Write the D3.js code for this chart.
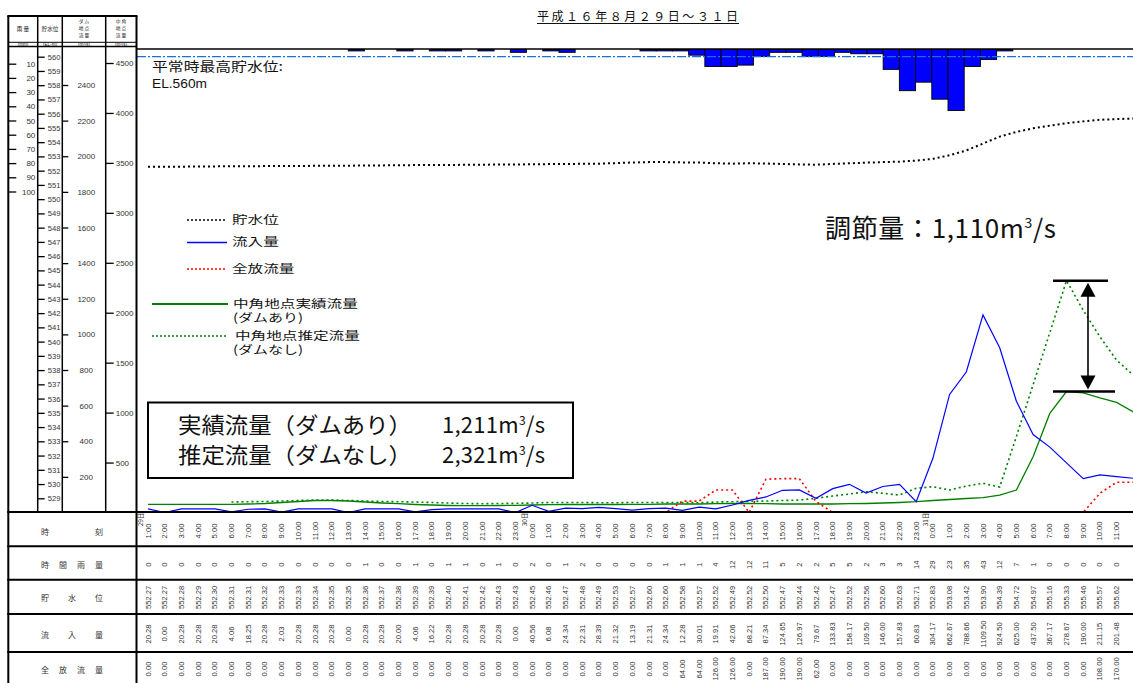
<!DOCTYPE html>
<html><head><meta charset="utf-8">
<script src="https://cdn.jsdelivr.net/npm/d3@7"></script>
<style>body{margin:0;background:#fff}svg{display:block}</style>
</head><body>
<svg id="c" width="1133" height="683"></svg>
<script>
// ---------------- DATA ----------------
const timeLabels = ["1:00","2:00","3:00","4:00","5:00","6:00","7:00","8:00","9:00","10:00","11:00","12:00","13:00","14:00","15:00","16:00","17:00","18:00","19:00","20:00","21:00","22:00","23:00",
 "0:00","1:00","2:00","3:00","4:00","5:00","6:00","7:00","8:00","9:00","10:00","11:00","12:00","13:00","14:00","15:00","16:00","17:00","18:00","19:00","20:00","21:00","22:00","23:00",
 "0:00","1:00","2:00","3:00","4:00","5:00","6:00","7:00","8:00","9:00","10:00","11:00","12:00"];
const dayIndex = [0, 23, 47];
const dayText = ["29日", "30日", "31日"];

const rainfall = [0,0,0,0,0,0,0,0,0,0,0,0,0,1,0,0,1,0,1,1,0,1,0,
 2,0,1,2,0,0,0,0,1,1,1,4,12,12,11,5,2,2,5,5,2,3,3,14,
 29,23,35,43,12,7,1,0,0,0,0,0,0];
const storage = [552.27,552.27,552.28,552.29,552.30,552.31,552.31,552.32,552.33,552.33,552.34,552.35,552.35,552.36,552.37,552.38,552.39,552.39,552.40,552.41,552.42,552.43,552.43,
 552.45,552.46,552.47,552.48,552.49,552.53,552.57,552.60,552.60,552.58,552.57,552.52,552.49,552.52,552.50,552.47,552.44,552.42,552.47,552.52,552.56,552.60,552.63,552.71,
 552.83,553.08,553.42,553.90,554.39,554.72,554.97,555.16,555.33,555.46,555.57,555.62,555.66];
const inflow = [20.28,0.00,20.28,20.28,20.28,4.06,18.25,20.28,2.03,20.28,20.28,20.28,0.00,20.28,20.28,20.00,4.06,16.22,20.28,20.28,20.28,20.28,0.00,
 40.56,6.08,24.34,22.31,28.39,21.32,13.19,21.31,24.34,12.28,30.01,19.91,42.06,68.21,87.34,124.65,126.97,79.67,133.83,158.17,109.50,146.00,157.83,60.83,
 304.17,662.67,788.66,1109.50,924.50,625.00,437.50,367.17,278.67,190.00,211.15,201.48,192.00];
const release = [0,0,0,0,0,0,0,0,0,0,0,0,0,0,0,0,0,0,0,0,0,0,0,
 0,0,0,0,0,0,0,0,0,64,64,126,126,0,187,190,190,62,0,0,0,0,0,0,
 0,0,0,0,0,0,0,0,0,0,108,170,170];
// 中角地点 実績流量（ダムあり） / 推定流量（ダムなし）
const nakaActual = [82,82,82,82,82,82,85,90,100,110,120,120,115,105,95,88,80,75,70,68,68,70,72,
 75,78,80,80,80,80,82,82,85,85,85,88,90,90,88,85,85,85,85,88,90,95,100,108,
 120,130,140,148,175,225,558,992,1211,1198,1148,1102,1008];
const nakaEstimated = [null,null,null,null,null,105,108,110,115,120,125,125,120,115,110,108,105,100,95,90,88,90,92,
 95,100,100,100,98,98,100,100,100,100,98,105,108,112,115,120,125,142,165,185,208,192,175,242,
 258,225,265,292,255,760,1280,1800,2321,2025,1760,1525,1375];

const rainTicks = [10,20,30,40,50,60,70,80,90,100];
const elTicks = d3.range(529, 561);
const damTicks = [200,400,600,800,1000,1200,1400,1600,1800,2000,2200,2400];
const nakaTicks = [500,1000,1500,2000,2500,3000,3500,4000,4500];
const rowLabels = ["時刻","時間雨量","貯水位","流入量","全放流量"];
const peakActual = 1211, peakEstimated = 2321, regulation = "1,110";
const titleText = "平成１６年８月２９日～３１日";

// ---------------- SCALES ----------------
const CJK = "'Noto Sans CJK JP', 'Noto Sans', sans-serif";
const LAT = "'Liberation Sans', Arial, 'Noto Sans CJK JP', sans-serif";
const svg = d3.select("#c");
svg.append("rect").attr("width",1133).attr("height",683).attr("fill","#fff");

const x = d3.scaleLinear().domain([0, 59]).range([148, 148 + 59*16.7]);
const xr = d3.scaleLinear().domain([0, 60]).range([137.5, 137.5 + 60*16.21]);
const yRain = d3.scaleLinear().domain([0, 100]).range([49.5, 191.5]);
const yEL = d3.scaleLinear().domain([529, 560]).range([498.3, 56.7]);
const yDam = d3.scaleLinear().domain([0, 2400]).range([512.5, 85]);
const yNak = d3.scaleLinear().domain([0, 4500]).range([512.5, 63]);

const defs = svg.append("defs");
defs.append("clipPath").attr("id","pc").append("rect").attr("x",137).attr("y",49).attr("width",996).attr("height",463);

// ---------------- TITLE ----------------
svg.append("text").attr("x",537).attr("y",21).attr("font-family",CJK).attr("font-size",12)
  .attr("textLength",201).attr("lengthAdjust","spacing").attr("fill","#111").text(titleText);
svg.append("line").attr("x1",537).attr("x2",739).attr("y1",23.5).attr("y2",23.5).attr("stroke","#111").attr("stroke-width",1);

// ---------------- PLOT ----------------
const plot = svg.append("g").attr("clip-path","url(#pc)");

plot.selectAll("rect.rain").data(rainfall.map((v,i)=>({v,i})).filter(d=>d.v>0)).enter().append("rect")
  .attr("x", d=>xr(d.i)).attr("width", d=>xr(d.i+1)-xr(d.i))
  .attr("y", yRain(0)).attr("height", d=>yRain(d.v)-yRain(0))
  .attr("fill","#0000ff").attr("stroke","#000").attr("stroke-width",0.9);

plot.append("line").attr("x1",137).attr("x2",1133).attr("y1",yEL(560)).attr("y2",yEL(560))
  .attr("stroke","#1d6fd8").attr("stroke-width",1.3).attr("stroke-dasharray","9,2,2,2");

const mk = (ys) => d3.line().defined(d=>d!=null).x((d,i)=>x(i)).y(d=>ys(d));

plot.append("path").datum(storage).attr("d", mk(yEL)).attr("fill","none")
  .attr("stroke","#000").attr("stroke-width",2).attr("stroke-dasharray","2,3");
plot.append("path").datum(nakaEstimated).attr("d", mk(yNak)).attr("fill","none")
  .attr("stroke","#008000").attr("stroke-width",1.6).attr("stroke-dasharray","2,3");
plot.append("path").datum(nakaActual).attr("d", mk(yNak)).attr("fill","none")
  .attr("stroke","#008000").attr("stroke-width",1.3);
plot.append("path").datum(release).attr("d", mk(yDam)).attr("fill","none")
  .attr("stroke","#ff0000").attr("stroke-width",1.6).attr("stroke-dasharray","2,3");
plot.append("path").datum(inflow).attr("d", mk(yDam)).attr("fill","none")
  .attr("stroke","#0000ff").attr("stroke-width",1.2);

svg.append("line").attr("x1",137).attr("x2",1133).attr("y1",49).attr("y2",49).attr("stroke","#000").attr("stroke-width",1.5);

svg.append("text").attr("x",152).attr("y",71).attr("font-family",CJK).attr("font-size",13)
  .attr("textLength",131).attr("lengthAdjust","spacingAndGlyphs").attr("fill","#111").text("平常時最高貯水位:");
svg.append("text").attr("x",152).attr("y",88).attr("font-family",LAT).attr("font-size",13)
  .attr("textLength",55).attr("lengthAdjust","spacingAndGlyphs").attr("fill","#111").text("EL.560m");

// ---------------- LEGEND ----------------
const legend = [
 {label:["貯水位"], y:220, x1:187, x2:227, tx:232, color:"#000", dash:"2,2", w:1.6},
 {label:["流入量"], y:242.5, x1:187, x2:227, tx:232, color:"#0000ff", dash:null, w:1.6},
 {label:["全放流量"], y:269, x1:187, x2:227, tx:232, color:"#ff0000", dash:"2,2", w:1.6},
 {label:["中角地点実績流量","(ダムあり)"], y:304, x1:152, x2:228, tx:233, color:"#008000", dash:null, w:1.8},
 {label:["中角地点推定流量","(ダムなし)"], y:336, x1:152, x2:228, tx:235, color:"#008000", dash:"2,2", w:1.6}
];
legend.forEach(l=>{
  svg.append("line").attr("x1",l.x1).attr("x2",l.x2).attr("y1",l.y).attr("y2",l.y)
    .attr("stroke",l.color).attr("stroke-width",l.w).attr("stroke-dasharray",l.dash);
  l.label.forEach((t,k)=>{
    const n = [...t].length;
    const tl = t.startsWith("(") ? 70 : n*15.6;
    svg.append("text").attr("x", k? 233 : l.tx).attr("y", l.y + (k ? 18 : 3.5)).attr("font-family",CJK).attr("font-size",11.5)
      .attr("textLength",tl).attr("lengthAdjust","spacingAndGlyphs").attr("fill","#111").text(t);
  });
});

// ---------------- INFO BOX ----------------
svg.append("rect").attr("x",148).attr("y",402.5).attr("width",425).attr("height",75.5)
  .attr("fill","#fff").attr("stroke","#000").attr("stroke-width",2);
function m3(sel, num, fs, supFs, tl){
  sel.attr("textLength",tl).attr("lengthAdjust","spacing");
  sel.append("tspan").text(num + "m");
  sel.append("tspan").attr("dy",-fs*0.38).attr("font-size",supFs).text("3");
  sel.append("tspan").attr("dy",fs*0.38).text("/s");
}
[["実績流量（ダムあり）", peakActual, 433],["推定流量（ダムなし）", peakEstimated, 463]].forEach(r=>{
  svg.append("text").attr("x",178).attr("y",r[2]).attr("font-family",CJK).attr("font-size",22)
    .attr("textLength",234).attr("lengthAdjust","spacingAndGlyphs").attr("fill","#111").text(r[0]);
  const t = svg.append("text").attr("x",442).attr("y",r[2]).attr("font-family",CJK).attr("font-size",22).attr("fill","#111");
  m3(t, d3.format(",")(r[1]), 22, 12, 103);
});

const reg = svg.append("text").attr("x",825).attr("y",238).attr("font-family",CJK).attr("font-size",26).attr("fill","#111");
reg.append("tspan").text("調節量：");
m3(reg, regulation, 26, 14, 231);
reg.attr("textLength",231);

const ax = x(55) + 21.5, yTop = yNak(peakEstimated), yBot = yNak(peakActual);
svg.append("line").attr("x1",x(55)-13.5).attr("x2",x(55)+41.5).attr("y1",yTop).attr("y2",yTop).attr("stroke","#000").attr("stroke-width",2.5);
svg.append("line").attr("x1",x(55)-13.5).attr("x2",x(55)+48.5).attr("y1",yBot).attr("y2",yBot).attr("stroke","#000").attr("stroke-width",2.5);
svg.append("line").attr("x1",ax).attr("x2",ax).attr("y1",yTop+12).attr("y2",yBot-12).attr("stroke","#000").attr("stroke-width",1.6);
svg.append("path").attr("d",`M${ax},${yTop+2}L${ax-7.5},${yTop+16}L${ax+7.5},${yTop+16}Z`).attr("fill","#000");
svg.append("path").attr("d",`M${ax},${yBot-2}L${ax-7.5},${yBot-16}L${ax+7.5},${yBot-16}Z`).attr("fill","#000");

// ---------------- LEFT AXES PANEL ----------------
const panel = svg.append("g");
const vx = [8.3, 37.7, 62.3, 105.7, 136.5];
vx.forEach((v,k)=>{
  const full = (k===0 || k===4);
  panel.append("line").attr("x1",v).attr("x2",v).attr("y1",16).attr("y2", full?683:512)
    .attr("stroke","#000").attr("stroke-width", full?2:1.5);
});
panel.append("line").attr("x1",7.3).attr("x2",137.5).attr("y1",16).attr("y2",16).attr("stroke","#000").attr("stroke-width",2);
panel.append("line").attr("x1",8.3).attr("x2",136.5).attr("y1",42.3).attr("y2",42.3).attr("stroke","#000").attr("stroke-width",1);
panel.append("line").attr("x1",8.3).attr("x2",136.5).attr("y1",46.6).attr("y2",46.6).attr("stroke","#000").attr("stroke-width",1.5);

const hdr = [
 {cx:23, lines:["雨 量"], ys:[30.5]},
 {cx:50, lines:["貯水位"], ys:[30.5]},
 {cx:84, lines:["ダ ム","地 点","流 量"], ys:[23,30,37]},
 {cx:121, lines:["中 角","地 点","流 量"], ys:[23,30,37]}
];
hdr.forEach(h=>h.lines.forEach((t,k)=>{
  panel.append("text").attr("x",h.cx).attr("y",h.ys[k]).attr("text-anchor","middle")
    .attr("font-family",CJK).attr("font-size",h.lines.length>1?4.7:5.6).attr("fill","#222").text(t);
}));
const units = [["(mm)",23],["(EL-m)",50],["(m³/s)",84],["(m³/s)",121]];
units.forEach(u=>panel.append("text").attr("x",u[1]).attr("y",46).attr("text-anchor","middle")
  .attr("font-family",LAT).attr("font-size",4.6).attr("fill","#222").text(u[0]));

function styleAxis(g){
  g.select(".domain").remove();
  g.selectAll(".tick line").attr("stroke","#000").attr("stroke-width",1.3);
  g.selectAll(".tick text").attr("fill","#333").attr("font-family",LAT);
}
panel.append("g").attr("transform","translate(8.3,0)")
  .call(d3.axisRight(yRain).tickValues(rainTicks).tickSize(8).tickFormat(d3.format("d")))
  .call(styleAxis)
  .call(g=>g.selectAll(".tick text").attr("text-anchor","end").attr("x",27).attr("font-size",8));
panel.append("g").attr("transform","translate(37.7,0)")
  .call(d3.axisRight(yEL).tickValues(elTicks).tickSize(7).tickPadding(3).tickFormat(d3.format("d")))
  .call(styleAxis)
  .call(g=>g.selectAll(".tick text").attr("font-size",7.6));
panel.append("g").attr("transform","translate(62.3,0)")
  .call(d3.axisRight(yDam).tickValues(damTicks).tickSize(6).tickFormat(d3.format("d")))
  .call(styleAxis)
  .call(g=>g.selectAll(".tick text").attr("text-anchor","middle").attr("x",24).attr("font-size",8));
panel.append("g").attr("transform","translate(105.7,0)")
  .call(d3.axisRight(yNak).tickValues(nakaTicks).tickSize(8).tickPadding(2).tickFormat(d3.format("d")))
  .call(styleAxis)
  .call(g=>g.selectAll(".tick text").attr("font-size",8));

// ---------------- TABLE ----------------
const rowY = [512, 546.3, 579.7, 614, 652];
const rowC = [531, 564.7, 597.3, 634, 669];
rowY.forEach(y=>svg.append("line").attr("x1",7.3).attr("x2",1133).attr("y1",y).attr("y2",y)
  .attr("stroke","#000").attr("stroke-width",2));
rowLabels.forEach((lab,r)=>{
  const ch = [...lab], n = ch.length;
  ch.forEach((c,k)=>svg.append("text").attr("x", n>1 ? 45 + k*(54/(n-1)) : 72).attr("y",rowC[r])
    .attr("dominant-baseline","central").attr("text-anchor","middle")
    .attr("font-family",CJK).attr("font-size",8).attr("fill","#333").text(c));
});
const visible = (i) => x(i) <= 1125;
const tbl = svg.append("g");
const rows = [
  {vals: timeLabels, fmt: d=>d},
  {vals: rainfall, fmt: d=>String(d)},
  {vals: storage, fmt: d=>d.toFixed(2)},
  {vals: inflow, fmt: d=>d.toFixed(2)},
  {vals: release, fmt: d=>d.toFixed(2)}
];
rows.forEach((row,r)=>{
  tbl.selectAll(null).data(row.vals.map((v,i)=>({v,i})).filter(d=>visible(d.i))).enter().append("text")
    .attr("transform",d=>`translate(${x(d.i)},${rowC[r]}) rotate(-90)`)
    .attr("text-anchor","middle").attr("dominant-baseline","central")
    .attr("font-family",LAT).attr("font-size",7.6).attr("fill","#333")
    .text(d=>row.fmt(d.v));
});
dayIndex.forEach((di,k)=>{
  tbl.append("text").attr("transform",`translate(${x(di)-8},519.5) rotate(-90)`)
    .attr("text-anchor","middle").attr("dominant-baseline","central")
    .attr("font-family",CJK).attr("font-size",6.5).attr("fill","#333").text(dayText[k]);
});
</script>
</body></html>
